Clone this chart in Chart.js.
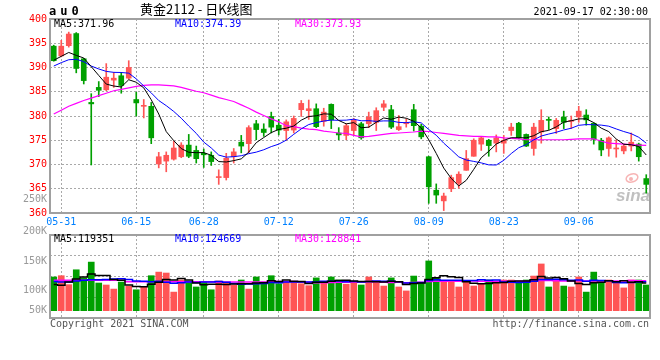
<!DOCTYPE html>
<html lang="zh">
<head>
<meta charset="UTF-8">
<title>黄金2112 - 日K线图</title>
<script src="https://cdn.jsdelivr.net/npm/chart.js"></script>
<style>
  html, body { margin: 0; padding: 0; background: #fff; }
  #wrap { position: relative; width: 660px; height: 360px; overflow: hidden; }
  #kline { position: absolute; left: 0; top: 0; }
  #vol { position: absolute; left: 0; top: 190px; }
</style>
</head>
<body>
<div id="wrap">
  <canvas id="kline" width="660" height="232"></canvas>
  <canvas id="vol" width="660" height="170"></canvas>
</div>
<script>
// trading days shown on the chart
const dates = [
  '05-28','05-31','06-01','06-02','06-03','06-04','06-07','06-08','06-09','06-10','06-11',
  '06-15','06-16','06-17','06-18','06-21','06-22','06-23','06-24','06-25',
  '06-28','06-29','06-30','07-01','07-02','07-05','07-06','07-07','07-08','07-09',
  '07-12','07-13','07-14','07-15','07-16','07-19','07-20','07-21','07-22','07-23',
  '07-26','07-27','07-28','07-29','07-30','08-02','08-03','08-04','08-05','08-06',
  '08-09','08-10','08-11','08-12','08-13','08-16','08-17','08-18','08-19','08-20',
  '08-23','08-24','08-25','08-26','08-27','08-30','08-31','09-01','09-02','09-03',
  '09-06','09-07','09-08','09-09','09-10','09-13','09-14','09-15','09-16','09-17'
];
const tickDates = ['05-31','06-15','06-28','07-12','07-26','08-09','08-23','09-06'];

const openPx = [
  394.4, 392.4, 394.5, 397.0, 391.8, 382.8, 385.9, 385.4, 387.4, 388.3,
  387.8, 383.4, 382.0, 382.0, 370.1, 370.7, 371.1, 371.6, 374.0, 372.9,
  372.3, 371.9, 367.3, 367.3, 371.6, 374.6, 374.3, 378.4, 377.3, 379.9,
  378.1, 377.0, 377.1, 381.3, 381.1, 381.5, 378.9, 382.4, 376.5, 376.0,
  377.0, 378.4, 378.4, 378.7, 381.8, 381.3, 377.2, 378.4, 381.3, 377.9,
  371.6, 364.7, 362.5, 365.0, 366.1, 368.8, 371.7, 374.2, 375.0, 374.4,
  374.4, 377.0, 378.5, 376.2, 373.3, 376.7, 379.3, 377.4, 379.8, 378.9,
  379.8, 380.2, 378.5, 375.0, 373.3, 373.2, 372.8, 373.8, 374.2, 367.1
];
const highPx = [
  394.6, 395.6, 397.3, 397.2, 391.9, 384.6, 387.1, 390.8, 389.0, 389.0,
  391.4, 384.9, 383.4, 382.8, 372.5, 372.6, 374.8, 374.5, 376.2, 373.8,
  373.2, 372.6, 368.9, 372.3, 373.3, 376.0, 378.0, 379.1, 378.4, 380.8,
  379.3, 379.2, 380.0, 383.2, 383.3, 382.5, 381.6, 382.5, 377.6, 378.4,
  379.5, 378.7, 380.8, 381.7, 383.2, 382.2, 380.1, 379.4, 382.4, 378.3,
  371.7, 366.0, 364.1, 367.8, 368.5, 372.9, 375.3, 375.6, 375.2, 376.1,
  376.0, 378.5, 378.7, 376.3, 378.5, 381.3, 379.8, 379.5, 381.0, 380.0,
  382.0, 381.3, 378.6, 375.4, 375.7, 375.1, 374.2, 376.5, 374.4, 367.9
];
const lowPx = [
  391.3, 392.2, 394.2, 388.9, 386.6, 369.9, 384.0, 385.2, 385.9, 384.7,
  387.6, 380.0, 379.6, 374.3, 369.3, 368.5, 370.9, 371.4, 371.4, 370.3,
  369.4, 369.8, 365.9, 366.8, 370.3, 372.4, 372.4, 375.1, 375.8, 376.5,
  376.1, 375.0, 376.5, 379.9, 379.3, 377.6, 377.9, 377.4, 375.1, 375.1,
  376.0, 375.2, 377.6, 377.0, 381.1, 377.4, 377.0, 377.7, 376.9, 375.3,
  362.0, 362.0, 360.5, 364.4, 365.1, 368.8, 371.7, 372.9, 371.7, 372.6,
  372.3, 376.0, 375.3, 373.7, 371.9, 374.4, 377.2, 376.4, 377.4, 377.4,
  378.7, 378.1, 374.2, 371.8, 371.7, 371.5, 372.2, 372.8, 370.7, 364.1
];
const closePx = [
  391.4, 394.4, 396.9, 389.8, 387.3, 382.5, 385.3, 388.0, 387.8, 386.3,
  390.0, 382.7, 382.2, 375.5, 371.6, 371.9, 373.4, 374.0, 371.7, 371.2,
  372.0, 370.6, 367.5, 371.3, 372.6, 373.8, 377.6, 377.2, 376.6, 377.7,
  377.1, 378.8, 379.5, 382.6, 381.5, 377.8, 380.8, 379.2, 376.1, 378.0,
  379.1, 375.5, 379.8, 381.1, 382.5, 377.7, 377.8, 378.6, 378.0, 375.7,
  365.4, 363.7, 363.5, 367.3, 368.0, 371.2, 375.0, 375.5, 373.9, 375.5,
  375.0, 377.7, 375.5, 373.8, 377.7, 379.1, 379.1, 379.1, 378.7, 379.1,
  381.0, 379.2, 375.2, 373.0, 375.5, 373.4, 373.8, 374.6, 371.6, 365.9
];

const ma5 = [
  391.5, 392.3, 393.1, 392.5, 391.96, 390.18, 388.36, 386.58, 386.18, 385.98,
  387.48, 386.96, 385.80, 383.34, 380.40, 376.78, 374.92, 373.28, 372.52, 372.44,
  372.46, 371.90, 370.60, 370.52, 370.80, 371.16, 372.56, 374.50, 375.56, 376.58,
  377.24, 377.48, 377.94, 379.14, 379.90, 380.04, 380.44, 380.38, 379.08, 378.38,
  378.64, 377.58, 377.70, 378.70, 379.60, 379.32, 379.78, 379.54, 378.92, 377.56,
  375.10, 372.28, 369.26, 367.12, 365.58, 366.74, 369.00, 371.40, 372.72, 374.22,
  374.98, 375.52, 375.52, 375.50, 375.94, 376.76, 377.04, 377.76, 378.74, 379.02,
  379.40, 379.42, 378.64, 377.50, 376.78, 375.26, 374.18, 374.06, 373.72, 371.96
];
const ma10 = [
  390.3, 391.0, 391.6, 391.7, 391.2, 390.3, 389.7, 389.2, 389.0, 388.97,
  388.83, 387.66, 386.19, 384.76, 383.19, 382.13, 380.94, 379.54, 377.93, 376.42,
  374.62, 373.41, 371.94, 371.52, 371.62, 371.81, 372.23, 372.55, 373.04, 373.69,
  374.20, 375.02, 376.22, 377.35, 378.24, 378.64, 378.96, 379.16, 379.11, 379.14,
  379.34, 379.01, 379.04, 378.89, 378.99, 378.98, 378.68, 378.62, 378.81, 378.58,
  377.21, 376.03, 374.40, 373.02, 371.57, 370.92, 370.64, 370.33, 369.92, 369.90,
  370.86, 372.26, 373.46, 374.11, 375.08, 375.87, 376.28, 376.64, 377.12, 377.48,
  378.08, 378.23, 378.20, 378.12, 377.90, 377.33, 376.80, 376.35, 375.61, 374.39
];
const ma30 = [
  380.4, 381.2, 382.0, 382.6, 383.2, 383.7, 384.2, 384.7, 385.2, 385.5,
  385.8, 386.1, 386.3, 386.4, 386.4, 386.3, 386.2, 385.9, 385.5, 385.1,
  384.8, 384.3, 383.8, 383.4, 383.0, 382.3, 381.6, 380.8, 380.1, 379.4,
  378.8, 378.0, 377.8, 377.5, 377.3, 377.2, 376.9, 376.7, 376.5, 376.4,
  376.0, 375.7, 375.8, 376.0, 376.2, 376.4, 376.5, 376.6, 376.7, 376.9,
  376.8, 376.6, 376.4, 376.2, 376.0, 375.9, 375.8, 375.8, 375.7, 375.7,
  375.5, 375.4, 375.3, 375.1, 375.1, 375.1, 375.1, 375.1, 375.1, 375.2,
  375.3, 375.3, 375.3, 374.8, 374.4, 374.3, 374.2, 374.1, 374.0, 373.93
];

// volume in thousands
const volume = [
  145, 150.5, 112, 176, 141, 209, 119, 110.5, 93, 123,
  105, 90, 102, 150.5, 166, 162, 80, 132, 120, 102,
  126, 90, 128, 119, 109, 132, 93, 145, 123, 150.5,
  116, 123, 123, 116, 107.5, 141, 123, 145, 132, 114,
  126, 110.5, 145, 128, 106, 141, 102, 85, 149, 119,
  214, 141, 128, 128, 102, 126, 106, 117, 132, 121,
  132, 132, 121, 132, 149, 201, 102, 130, 106, 102,
  145, 80, 166, 121, 132, 126, 98, 132, 132, 110.5
];
const volMa5 = [
  113, 109, 123, 136, 144.9, 157.7, 151.4, 151.1, 134.5, 130.9,
  110.1, 104.3, 102.6, 114.1, 122.7, 134.1, 132.1, 138.1, 132.0, 119.2,
  112.0, 114.0, 113.2, 113.0, 114.4, 115.6, 116.2, 119.6, 120.4, 128.7,
  125.5, 131.5, 127.1, 125.7, 117.1, 122.1, 122.1, 126.5, 129.7, 131.0,
  128.0, 125.5, 125.5, 124.7, 123.1, 126.1, 124.4, 112.4, 116.6, 119.2,
  133.8, 141.6, 150.2, 146.0, 142.6, 125.0, 118.0, 115.8, 116.6, 120.4,
  121.6, 126.8, 127.6, 127.6, 133.2, 147.0, 141.0, 142.8, 137.6, 128.2,
  117.0, 112.6, 119.8, 122.8, 128.8, 125.0, 128.6, 121.8, 124.0, 119.351
];
const volMa10 = [
  126, 123, 123, 128, 131, 133, 133, 134, 136, 137.9,
  133.9, 127.9, 126.9, 124.3, 126.8, 122.1, 118.2, 120.4, 123.1, 121.0,
  123.1, 123.1, 125.7, 122.5, 116.8, 113.8, 115.1, 116.4, 116.7, 121.6,
  120.6, 123.9, 123.4, 123.1, 122.9, 123.8, 126.8, 126.8, 127.7, 124.1,
  125.1, 123.8, 126.0, 127.2, 127.1, 127.1, 125.0, 119.0, 120.7, 121.2,
  130.0, 133.0, 131.3, 131.3, 130.9, 129.4, 129.8, 133.0, 131.3, 131.5,
  123.3, 122.4, 121.7, 122.1, 126.8, 134.3, 133.9, 135.2, 132.6, 130.7,
  132.0, 126.8, 131.3, 130.2, 128.5, 121.0, 120.6, 120.8, 123.4, 124.669
];
const volMa30 = [
  131, 131, 131, 131, 131, 131, 131, 131, 131, 131,
  124, 124, 124, 124, 124, 124, 124, 124, 124, 124,
  124, 124, 123, 123, 123, 123, 123, 123, 123, 126.8,
  125.8, 124.9, 125.3, 123.3, 122.2, 119.9, 120.0, 121.2, 122.5, 122.2,
  122.9, 123.6, 125.0, 124.3, 122.3, 121.6, 122.3, 120.7, 121.7, 122.3,
  125.2, 126.9, 126.9, 127.2, 127.0, 126.8, 127.2, 126.3, 126.6, 125.6,
  126.1, 126.4, 126.3, 126.9, 128.3, 130.3, 129.6, 129.1, 128.2, 127.8,
  128.4, 127.4, 128.1, 127.9, 128.7, 128.2, 128.1, 129.7, 129.1, 128.841
];
const volAxisLabels = ['250K', '200K', '150K', '100K', '50K'];

const MONO = '"DejaVu Sans Mono", monospace';
const UP = '#ff5555';
const DOWN = '#00a000';
const GRID = '#a9a9a9';
const FRAME = '#a0a0a0';

const candleColors = closePx.map((c, i) => c >= openPx[i] ? UP : DOWN);
const labeledIdx = new Set(tickDates.map(d => dates.indexOf(d)));
const gridColor = c => labeledIdx.has(c.index) ? GRID : 'rgba(0,0,0,0)';

function maLine(label, data, color, width, stepped) {
    return {
        type: 'line', label: label, data: data,
        borderColor: color, borderWidth: width,
        pointRadius: 0, stepped: stepped || false, order: 0
    };
}

// frame, titles and legends of the price panel
const priceDecor = {
    id: 'priceDecor',
    beforeDatasetsDraw(chart) {
        const ctx = chart.ctx;
        ctx.save();
        // sina watermark
        ctx.strokeStyle = 'rgba(240,120,120,0.55)';
        ctx.lineWidth = 1.5;
        ctx.beginPath();
        ctx.ellipse(632, 178, 6, 4, -0.3, 0, Math.PI * 2);
        ctx.stroke();
        ctx.fillStyle = 'rgba(240,120,120,0.55)';
        ctx.beginPath();
        ctx.arc(631, 179, 2, 0, Math.PI * 2);
        ctx.fill();
        ctx.fillStyle = 'rgba(150,150,150,0.6)';
        ctx.font = 'italic bold 17px "Liberation Sans"';
        ctx.fillText('sina', 616, 201);
        ctx.restore();
    },
    afterDraw(chart) {
        const { ctx, chartArea: a } = chart;
        ctx.save();
        ctx.strokeStyle = FRAME;
        ctx.lineWidth = 2;
        ctx.strokeRect(a.left, a.top, a.right - a.left, a.bottom - a.top);

        ctx.textBaseline = 'alphabetic';
        ctx.fillStyle = '#000';
        ctx.font = 'bold 12px ' + MONO;
        ctx.letterSpacing = '4px';
        ctx.fillText('au0', 49, 15);
        ctx.letterSpacing = '0px';

        ctx.font = '13px "Noto Sans CJK SC"';
        ctx.fillText('黄金2112 - 日K线图', 140, 14);

        ctx.font = '10px ' + MONO;
        ctx.textAlign = 'right';
        ctx.fillText('2021-09-17 02:30:00', 648, 15);

        ctx.textAlign = 'left';
        ctx.fillStyle = '#000';
        ctx.fillText('MA5:' + ma5[ma5.length - 1].toFixed(2), 54, 27);
        ctx.fillStyle = '#0000ff';
        ctx.fillText('MA10:' + ma10[ma10.length - 1].toFixed(2), 175, 27);
        ctx.fillStyle = '#ff00ff';
        ctx.fillText('MA30:' + ma30[ma30.length - 1].toFixed(2), 295, 27);
        ctx.restore();
    }
};

const volDecor = {
    id: 'volDecor',
    afterDraw(chart) {
        const { ctx, chartArea: a } = chart;
        ctx.save();
        ctx.strokeStyle = FRAME;
        ctx.lineWidth = 2;
        ctx.strokeRect(a.left, a.top, a.right - a.left, a.bottom - a.top);

        ctx.font = '10px ' + MONO;
        // sina places these labels off the grid lines
        const labelY = [9, 41, 71.5, 100.5, 120];
        ctx.fillStyle = '#999';
        ctx.textAlign = 'right';
        ctx.textBaseline = 'middle';
        volAxisLabels.forEach((t, i) => ctx.fillText(t, 47, labelY[i]));

        ctx.textBaseline = 'alphabetic';
        ctx.textAlign = 'left';
        const last = arr => Math.round(arr[arr.length - 1] * 1000);
        ctx.fillStyle = '#000';
        ctx.fillText('MA5:' + last(volMa5), 54, 51.5);
        ctx.fillStyle = '#0000ff';
        ctx.fillText('MA10:' + last(volMa10), 175, 51.5);
        ctx.fillStyle = '#ff00ff';
        ctx.fillText('MA30:' + last(volMa30), 295, 51.5);

        ctx.fillStyle = '#555';
        ctx.fillText('Copyright 2021 SINA.COM', 50, 137);
        ctx.textAlign = 'right';
        ctx.fillText('http://finance.sina.com.cn', 649, 137);
        ctx.restore();
    }
};

new Chart(document.getElementById('kline'), {
    type: 'bar',
    data: {
        labels: dates,
        datasets: [
            maLine('MA5', ma5, '#000000', 1),
            maLine('MA10', ma10, '#0000ff', 1),
            maLine('MA30', ma30, '#ff00ff', 1.2),
            {
                label: 'body',
                data: openPx.map((o, i) => [o, closePx[i]]),
                backgroundColor: candleColors,
                barThickness: 5,
                minBarLength: 1,
                grouped: false,
                order: 1
            },
            {
                label: 'wick',
                data: lowPx.map((l, i) => [l, highPx[i]]),
                backgroundColor: candleColors,
                barThickness: 1,
                grouped: false,
                order: 2
            }
        ]
    },
    options: {
        responsive: false,
        animation: false,
        events: [],
        layout: { padding: { top: 19, right: 10, left: 0, bottom: 0 } },
        plugins: { legend: { display: false }, tooltip: { enabled: false } },
        scales: {
            x: {
                offset: true,
                grid: { offset: false, color: gridColor, drawTicks: false },
                border: { display: false, dash: [2, 2] },
                ticks: {
                    autoSkip: false, maxRotation: 0, padding: 3,
                    color: '#0080ff', font: { family: MONO, size: 10 },
                    callback: (v, i) => labeledIdx.has(i) ? dates[i] : ''
                },
                afterFit: s => { s.height = 19; }
            },
            y: {
                min: 360, max: 400,
                ticks: { stepSize: 5, padding: 3, color: '#ff0000', font: { family: MONO, size: 10 } },
                grid: { color: GRID, drawTicks: false },
                border: { display: false, dash: [2, 2] },
                afterFit: s => { s.width = 50; }
            }
        }
    },
    plugins: [priceDecor]
});

new Chart(document.getElementById('vol'), {
    type: 'bar',
    data: {
        labels: dates,
        datasets: [
            maLine('VMA5', volMa5, '#000000', 1.5, 'middle'),
            maLine('VMA10', volMa10, '#0000ff', 1.5, 'middle'),
            maLine('VMA30', volMa30, '#ff00ff', 1.5, 'middle'),
            {
                label: 'volume',
                data: volume,
                backgroundColor: candleColors,
                barThickness: 6,
                order: 1
            }
        ]
    },
    options: {
        responsive: false,
        animation: false,
        events: [],
        layout: { padding: { top: 45, right: 10, left: 0, bottom: 0 } },
        plugins: { legend: { display: false }, tooltip: { enabled: false } },
        scales: {
            x: {
                offset: true,
                grid: { offset: false, color: gridColor, drawTicks: false },
                border: { display: false, dash: [2, 2] },
                ticks: { display: false, autoSkip: false },
                afterFit: s => { s.height = 42; }
            },
            y: {
                min: -31.4, max: 325.5,
                afterBuildTicks: s => {
                    s.ticks = [0, 1, 2, 3, 4].map(k => ({ value: s.min + (s.max - s.min) * k / 4 }));
                },
                ticks: { display: false },
                grid: { color: GRID, drawTicks: false },
                border: { display: false, dash: [2, 2] },
                afterFit: s => { s.width = 50; }
            }
        }
    },
    plugins: [volDecor]
});
</script>
</body>
</html>
